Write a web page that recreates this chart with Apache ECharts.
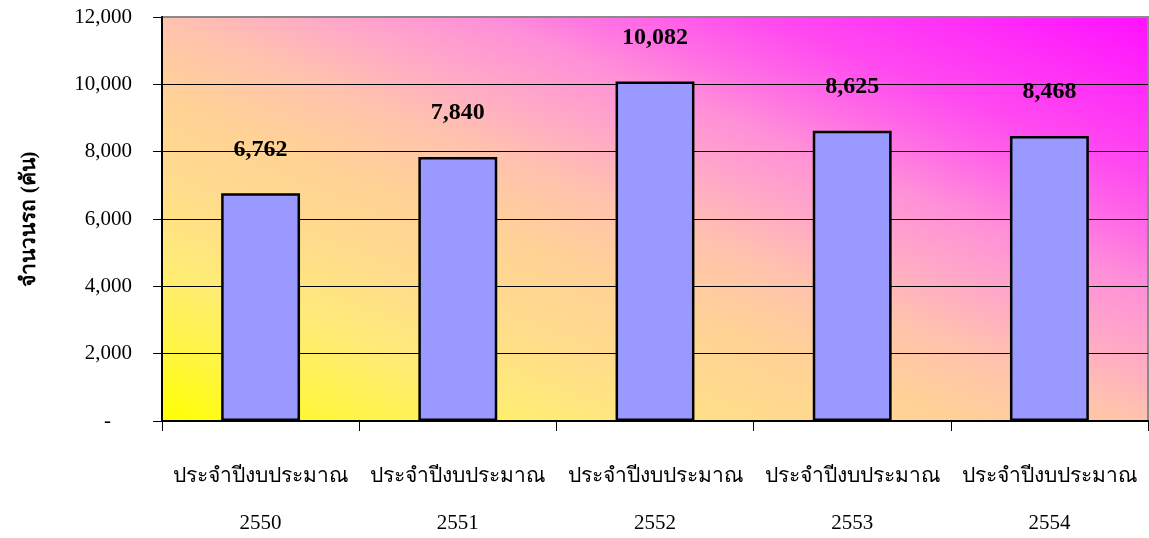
<!DOCTYPE html>
<html>
<head>
<meta charset="utf-8">
<script src="https://cdn.jsdelivr.net/npm/echarts@6/dist/echarts.min.js"></script>
<style>
html,body{margin:0;padding:0;background:#fff;}
#chart{width:1149px;height:538px;}
</style>
</head>
<body>
<div id="chart"></div>
<script>
// ---- data ----
const categoryPrefix = 'ประจำปีงบประมาณ';
const years = ['2550', '2551', '2552', '2553', '2554'];
const values = [6762, 7840, 10082, 8625, 8468];
const yAxisTitle = 'จำนวนรถ (คัน)';
const yMin = 0, yMax = 12000, yInterval = 2000;

const categories = years.map(y => categoryPrefix + '\n' + y);
const fmt = v => v.toLocaleString('en-US');

const chart = echarts.init(document.getElementById('chart'), null, {renderer: 'canvas'});
const FONT = '"Liberation Serif", "Times New Roman", serif';

chart.setOption({
  animation: false,
  backgroundColor: '#ffffff',
  grid: {
    left: 162, right: 1, top: 17, bottom: 117,
    containLabel: false,
    outerBoundsMode: 'none',
    show: true,
    borderColor: '#8a8a8a',
    borderWidth: 2,
    backgroundColor: new echarts.graphic.LinearGradient(0.356, 1.356, 0.644, -0.356, [
      {offset: 0, color: '#ffff00'},
      {offset: 0.1, color: '#fff545'},
      {offset: 0.2, color: '#ffeb78'},
      {offset: 0.3, color: '#ffdc8c'},
      {offset: 0.4, color: '#ffd296'},
      {offset: 0.5, color: '#ffc2ae'},
      {offset: 0.58, color: '#ffa8c8'},
      {offset: 0.66, color: '#ff90d8'},
      {offset: 0.72, color: '#ff70e4'},
      {offset: 0.8, color: '#ff4af0'},
      {offset: 1, color: '#ff10ff'}
    ])
  },
  xAxis: {
    type: 'category',
    data: categories,
    boundaryGap: true,
    axisLine: {show: true, lineStyle: {color: '#000', width: 2}},
    axisTick: {show: true, alignWithLabel: false, length: 10, lineStyle: {color: '#000', width: 1}},
    axisLabel: {
      margin: 32,
      color: '#000',
      fontFamily: FONT,
      fontSize: 21,
      lineHeight: 47,
      interval: 0
    },
    splitLine: {show: false}
  },
  yAxis: {
    type: 'value',
    min: yMin, max: yMax, interval: yInterval,
    name: yAxisTitle,
    nameLocation: 'middle',
    nameRotate: 90,
    nameGap: 122,
    nameTextStyle: {color: '#000', fontFamily: FONT, fontSize: 21, fontWeight: 'bold'},
    axisLine: {show: true, lineStyle: {color: '#000', width: 2}},
    axisTick: {show: true, length: 9, lineStyle: {color: '#000', width: 1}},
    axisLabel: {
      margin: 30,
      color: '#000',
      fontFamily: FONT,
      fontSize: 21,
      formatter: v => v === 0 ? '-    ' : fmt(v)
    },
    splitLine: {show: true, showMinLine: false, showMaxLine: false, lineStyle: {color: '#000', width: 1}}
  },
  series: [{
    type: 'bar',
    data: values,
    barWidth: '40%',
    itemStyle: {color: '#9999ff', borderColor: '#000', borderWidth: 2.5},
    label: {
      show: true,
      position: 'top',
      distance: 32,
      color: '#000',
      fontFamily: FONT,
      fontSize: 24,
      fontWeight: 'bold',
      formatter: p => fmt(p.value)
    }
  }]
});
</script>
</body>
</html>
